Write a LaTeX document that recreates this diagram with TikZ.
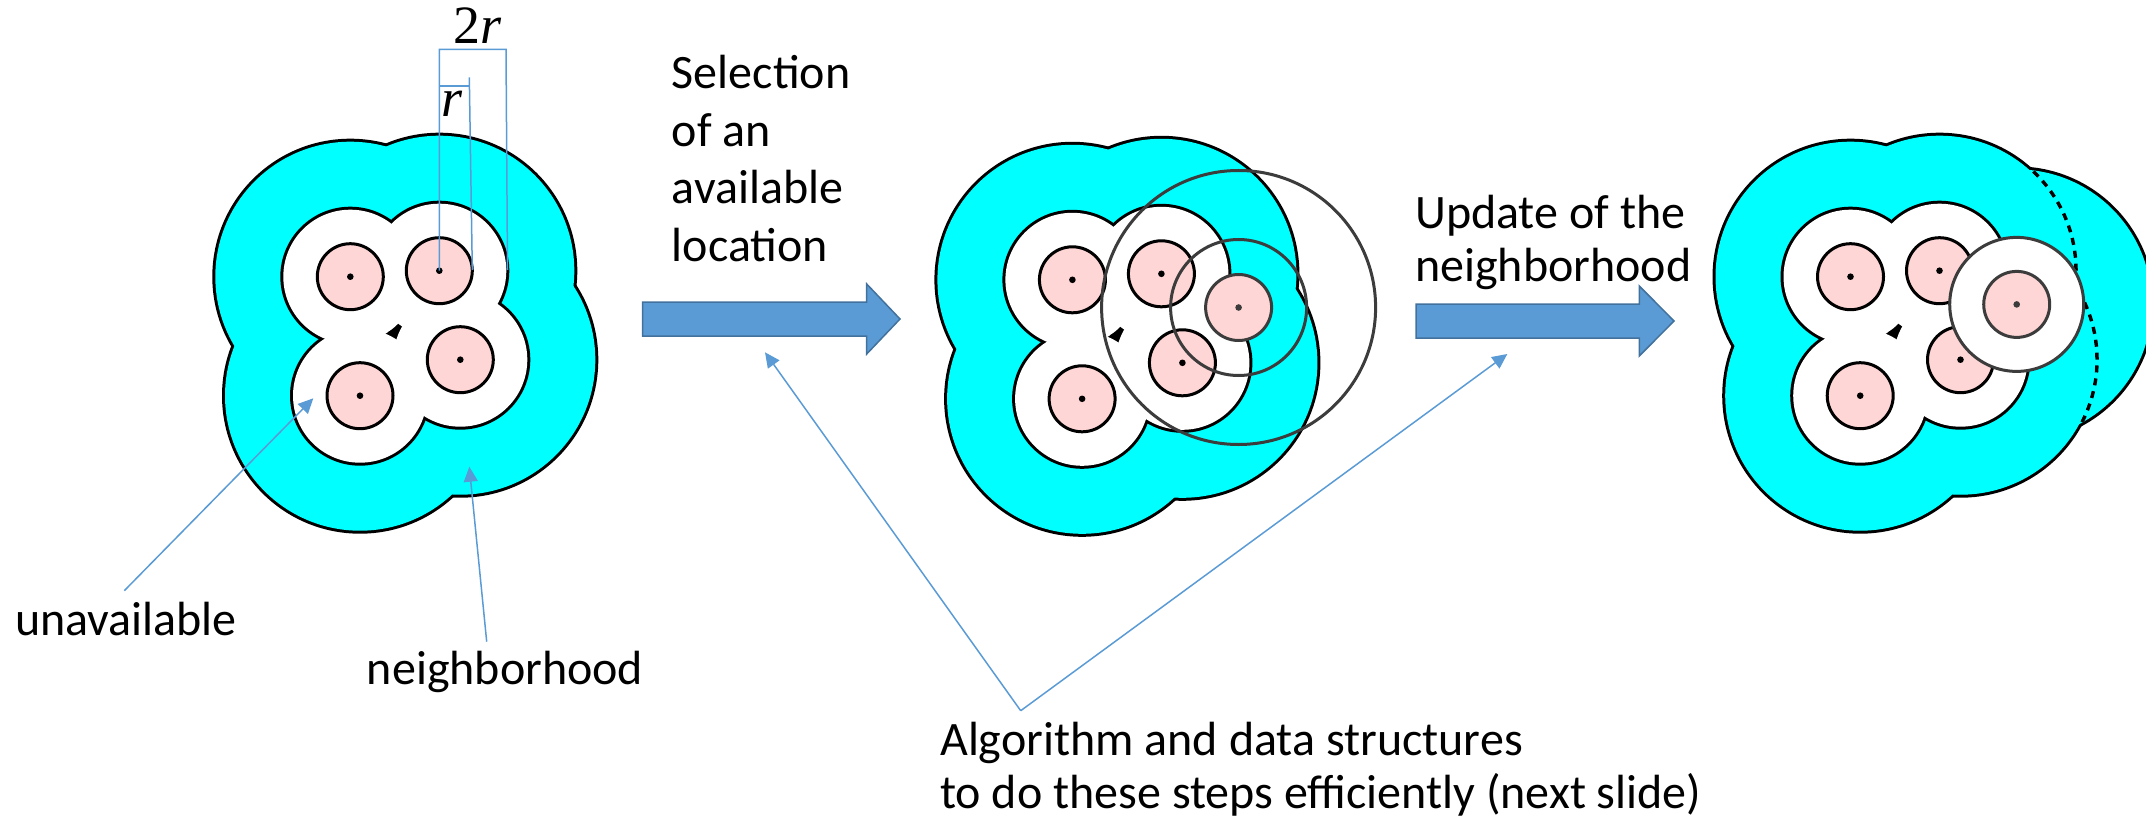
\documentclass[tikz,border=0pt]{standalone}
\usepackage{fontspec}
\setmainfont{Carlito}
\newfontfamily\serifm{Liberation Serif}
\usetikzlibrary{arrows.meta}
\definecolor{cyanf}{RGB}{0,255,255}
\definecolor{pinkf}{RGB}{255,214,214}
\definecolor{bluef}{RGB}{91,155,213}
\definecolor{blued}{RGB}{65,113,156}
\definecolor{grayc}{RGB}{60,60,60}
\newcommand\setpts{%
  \coordinate (A) at (350.3,276.7);
  \coordinate (B) at (439.3,270.7);
  \coordinate (C) at (460.3,359.7);
  \coordinate (D) at (360,395.7);
  \coordinate (N) at (516.5,304.4);
}
\newcommand\cyanlayer[1]{%
  \foreach \p in {#1} \draw[line width=6pt] (\p) circle[radius=135pt];
  \foreach \p in {#1} \fill[cyanf] (\p) circle[radius=135pt];
}
\newcommand\whitelayer{%
  \foreach \p in {A,B,C,D} \draw[line width=6pt] (\p) circle[radius=67pt];
  \foreach \p in {A,B,C,D} \fill[white] (\p) circle[radius=67pt];
  \fill (387.8,332.2) -- (399.5,325.5) -- (396.5,337.8) -- cycle;
  \foreach \p in {A,B,C,D} {\draw[line width=3pt,fill=pinkf] (\p) circle[radius=33pt];
    \fill (\p) circle[radius=3.3pt];}
}
\tikzset{
  lbl/.style={inner sep=0pt, font=\fontsize{48}{56}\selectfont},
  mathlbl/.style={inner sep=0pt, font=\serifm\fontsize{54}{60}\selectfont},
  pointer/.style={draw=bluef, line width=1.5pt, -{Triangle[length=15pt,width=14pt]}},
  dimline/.style={draw=bluef, line width=1.5pt},
  blockarrow/.style={fill=bluef, draw=blued, line width=1.5pt, line join=miter},
}
\begin{document}
\begin{tikzpicture}[x=1pt,y=-1pt]
\useasboundingbox (0,0) rectangle (2146,818);
\begin{scope}
\clip (0,0) rectangle (2146,818);
% panel 1
\begin{scope}
\setpts
\cyanlayer{A,B,C,D}
\whitelayer
\end{scope}
% panel 2
\begin{scope}[shift={(722.1,3.1)}]
\setpts
\cyanlayer{A,B,C,D}
\whitelayer
\draw[grayc,line width=3pt,fill=pinkf] (N) circle[radius=33pt];
\fill[grayc] (N) circle[radius=3.3pt];
\draw[grayc,line width=3pt] (N) circle[radius=68pt];
\draw[grayc,line width=3pt] (N) circle[radius=137pt];
\end{scope}
% panel 3
\begin{scope}[shift={(1500.2,0)}]
\setpts
\cyanlayer{A,B,C,D,N}
\begin{scope}
\clip (N) circle[radius=135pt];
\foreach \p in {A,B,C,D} \draw[dash pattern=on 7pt off 6pt, line width=3.5pt] (\p) circle[radius=136.5pt];
\end{scope}
\foreach \p in {A,B,C,D} \fill[cyanf] (\p) circle[radius=134.5pt];
\whitelayer
\draw[grayc,line width=3pt,fill=white] (N) circle[radius=67pt];
\draw[grayc,line width=3pt,fill=pinkf] (N) circle[radius=33pt];
\fill[grayc] (N) circle[radius=3.3pt];
\end{scope}
\end{scope}

% dimension lines (panel 1)
\draw[dimline] (439.3,270.7) -- (439.3,49.3) -- (506,49.3) -- (507.5,270);
\draw[dimline] (439.3,86) -- (469.3,86);
\draw[dimline] (469.3,77.3) -- (472.3,270);
\node[mathlbl, anchor=base] (twor) at (477.5,44) {2\textit{r}};
\node[mathlbl, anchor=base] (onr) at (452.5,116.7) {\textit{r}};

% block arrows
\draw[blockarrow] (642.7,302) -- (866.7,302) -- (866.7,284) -- (900,319) -- (866.7,354) -- (866.7,336) -- (642.7,336) -- cycle;
\draw[blockarrow] (1416,304) -- (1639.3,304) -- (1639.3,286) -- (1674,321) -- (1639.3,356) -- (1639.3,338) -- (1416,338) -- cycle;

% labels
\node[lbl, anchor=base west] (unav) at (15,635.7) {unavailable};
\node[lbl, anchor=base west] (neigh) at (366.7,684) {neighborhood};
\node[lbl, anchor=base west] (sel) at (671.7,88.3) {\vtop{\baselineskip=57.8pt\hbox{Selection}\hbox{of an}\hbox{available}\hbox{location}}};
\node[lbl, anchor=base west] (upd) at (1415,228.3) {\vtop{\baselineskip=53.3pt\hbox{Update of the}\hbox{neighborhood}}};
\node[lbl, anchor=base west] (algo) at (940,755) {\vtop{\baselineskip=53.3pt\hbox{Algorithm and data structures}\hbox{to do these steps efficiently (next slide)}}};

% pointers
\coordinate (unavS) at (124.3,590.7);
\coordinate (unavT) at (313.3,398.3);
\coordinate (neighS) at (486.7,641.7);
\coordinate (neighT) at (469.3,466.7);
\coordinate (algoS) at (1020.7,710.7);
\coordinate (selT) at (765,352.3);
\coordinate (updT) at (1507.3,354);
\draw[pointer] (unavS) -- (unavT);
\draw[pointer] (neighS) -- (neighT);
\draw[pointer] (algoS) -- (selT);
\draw[pointer] (algoS) -- (updT);
\end{tikzpicture}
\end{document}
